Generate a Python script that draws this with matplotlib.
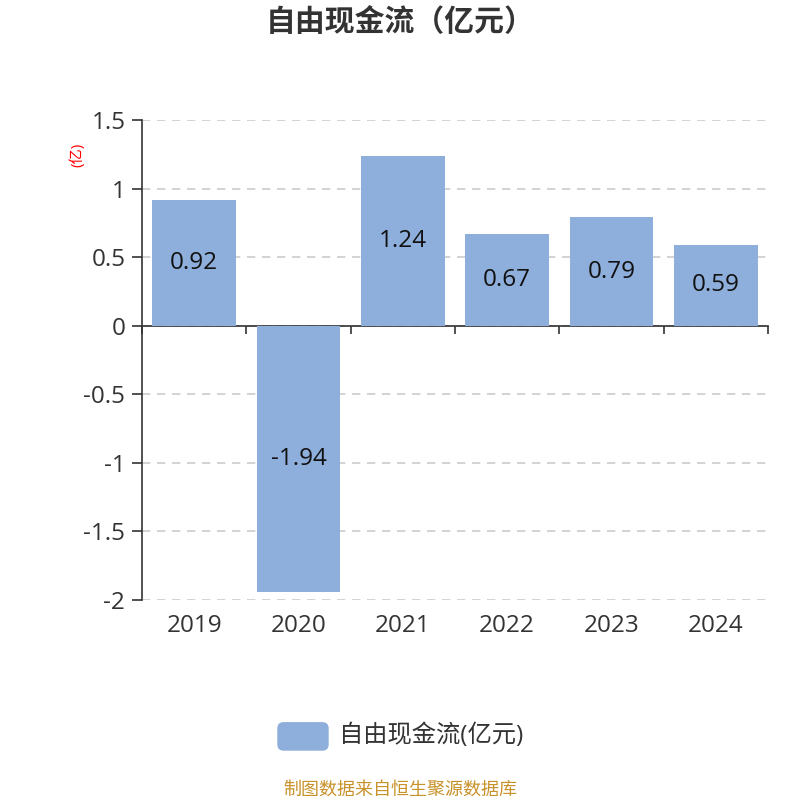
import matplotlib
matplotlib.use('Agg')
from matplotlib import pyplot as plt
from matplotlib.patches import FancyBboxPatch
import matplotlib.transforms as mtransforms

plt.rcParams['font.family'] = ['Open Sans', 'Noto Sans CJK SC', 'DejaVu Sans']

years = ['2019', '2020', '2021', '2022', '2023', '2024']
values = [0.92, -1.94, 1.24, 0.67, 0.79, 0.59]
y_ticks = [1.5, 1, 0.5, 0, -0.5, -1, -1.5, -2]
y_tick_labels = ['1.5', '1', '0.5', '0', '-0.5', '-1', '-1.5', '-2']

bar_color = '#8eaedb'
text_color = '#333333'

fig = plt.figure(figsize=(8, 8), dpi=100)
ax = fig.add_axes([0.1775, 0.25, 0.7825, 0.60])

x = range(len(years))
bars = ax.bar(x, values, width=0.8, color=bar_color, zorder=3)
for b, v in zip(bars, values):
    ax.text(b.get_x() + b.get_width() / 2, v / 2, '%.2f' % v,
            ha='center', va='center', fontsize=17.5, color='#111111', zorder=4)

ax.set_xlim(-0.5, len(years) - 0.5)
ax.set_ylim(-2, 1.5)
ax.set_yticks(y_ticks)
ax.set_yticklabels(y_tick_labels, fontsize=17.5, color=text_color)
ax.yaxis.grid(True, linestyle=(0, (5, 4)), color='#cccccc', linewidth=1.2, zorder=0)
ax.tick_params(axis='y', length=7, width=1.2, color=text_color, pad=5)

# x axis line at zero with ticks at category boundaries
ax.spines['top'].set_visible(False)
ax.spines['right'].set_visible(False)
ax.spines['bottom'].set_position(('data', 0))
ax.spines['bottom'].set_color(text_color)
ax.spines['bottom'].set_linewidth(1.2)
ax.spines['left'].set_color(text_color)
ax.spines['left'].set_linewidth(1.2)
ax.set_xticks([i - 0.5 for i in range(len(years) + 1)])
ax.set_xticklabels([])
ax.tick_params(axis='x', length=6, width=1.2, color=text_color)

trans = mtransforms.blended_transform_factory(ax.transData, ax.transAxes)
for i, yr in enumerate(years):
    ax.text(i, -0.054, yr, transform=trans, ha='center', va='center',
            fontsize=17.5, color=text_color)

fig.text(0.0975, 0.806, '(亿)', rotation=90, color='red', fontsize=11,
         ha='center', va='center')

fig.text(0.5, 0.971, '自由现金流（亿元）', ha='center', va='center',
         fontsize=21.5, fontweight='bold', color=text_color)

# legend
patch = FancyBboxPatch((0.3475, 0.0625), 0.0625, 0.034, boxstyle='round,pad=0,rounding_size=0.007',
                       transform=fig.transFigure, color=bar_color, figure=fig)
fig.patches.append(patch)
fig.text(0.424, 0.0805, '自由现金流(亿元)', ha='left', va='center',
         fontsize=17.5, color=text_color)

fig.text(0.5, 0.0135, '制图数据来自恒生聚源数据库', ha='center', va='center',
         fontsize=13, color='#c8922a')

plt.savefig('out.png')
